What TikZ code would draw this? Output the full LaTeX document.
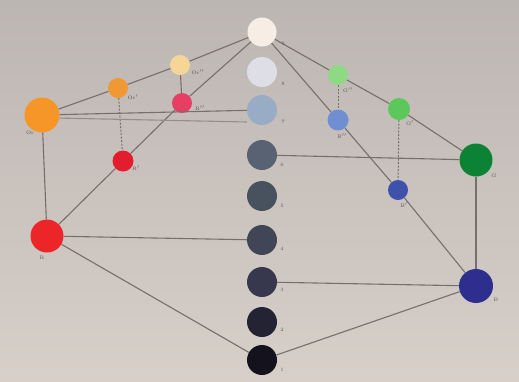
\documentclass[tikz,border=0pt]{standalone}
\usetikzlibrary{calc}
\definecolor{bgtop}{RGB}{188,182,179}
\definecolor{bgbot}{RGB}{215,207,200}
\definecolor{ln}{RGB}{118,111,106}
\definecolor{lab}{RGB}{95,90,88}
\definecolor{c1}{RGB}{246,238,228}
\definecolor{c2}{RGB}{222,223,230}
\definecolor{c3}{RGB}{152,172,198}
\definecolor{c4}{RGB}{88,98,114}
\definecolor{c5}{RGB}{72,82,94}
\definecolor{c6}{RGB}{64,70,86}
\definecolor{c7}{RGB}{55,55,78}
\definecolor{c8}{RGB}{36,35,52}
\definecolor{c9}{RGB}{20,18,28}
\definecolor{orA}{RGB}{246,150,40}
\definecolor{orB}{RGB}{240,152,52}
\definecolor{orC}{RGB}{246,214,150}
\definecolor{rA}{RGB}{236,38,40}
\definecolor{rB}{RGB}{226,30,46}
\definecolor{rC}{RGB}{230,62,100}
\definecolor{gA}{RGB}{12,130,52}
\definecolor{gB}{RGB}{92,200,92}
\definecolor{gC}{RGB}{142,218,132}
\definecolor{bA}{RGB}{46,46,142}
\definecolor{bB}{RGB}{62,82,172}
\definecolor{bC}{RGB}{112,142,210}
\tikzset{
  dot/.style={circle, inner sep=0pt, fill=#1},
  con/.style={draw=ln, line width=1.1pt},
  dcon/.style={draw=ln, line width=1pt, dash pattern=on 2pt off 1.5pt},
  lbl/.style={text=lab, font=\fontsize{5}{5}\selectfont, inner sep=0pt}
}
\begin{document}
\begin{tikzpicture}[x=1pt,y=-1pt]
\shade[top color=bgtop, bottom color=bgbot] (0,0) rectangle (519,381);
\useasboundingbox (0,0) rectangle (519,381);
% centre column
\node[dot=c1, minimum size=29pt] (n9) at (262,32) {};
\node[dot=c2, minimum size=30pt] (n8) at (262,72) {};
\node[dot=c3, minimum size=30pt] (n7) at (262,110) {};
\node[dot=c4, minimum size=30pt] (n6) at (262,155) {};
\node[dot=c5, minimum size=30pt] (n5) at (262,196) {};
\node[dot=c6, minimum size=30pt] (n4) at (262,240) {};
\node[dot=c7, minimum size=30pt] (n3) at (262,282) {};
\node[dot=c8, minimum size=30pt] (n2) at (262,322) {};
\node[dot=c9, minimum size=30pt] (n1) at (262,360) {};
% left
\node[dot=orA, minimum size=35pt] (Or) at (42,115) {};
\node[dot=orB, minimum size=20pt] (Or1) at (118,88) {};
\node[dot=orC, minimum size=20pt] (Or2) at (180,65) {};
\node[dot=rC, minimum size=20pt] (R2) at (182,103) {};
\node[dot=rB, minimum size=21pt] (R1) at (123,161) {};
\node[dot=rA, minimum size=33pt] (R) at (47,236) {};
% right
\node[dot=gC, minimum size=20pt] (G2) at (338,75) {};
\node[dot=bC, minimum size=21pt] (B2) at (338,120) {};
\node[dot=gB, minimum size=22pt] (G1) at (399,109) {};
\node[dot=gA, minimum size=33pt] (G) at (476,160) {};
\node[dot=bB, minimum size=20pt] (B1) at (398,190) {};
\node[dot=bA, minimum size=34pt] (B) at (476,286) {};
% connectors
\draw[con] (n9) -- (Or2) -- (Or1) -- (Or);
\draw[con] (n9) -- (R2) -- (R1) -- (R);
\draw[con] (n9) -- (G2) -- (G1) -- (G);
\draw[con] (n9) -- (B2) -- (B1) -- (B);
\draw[dcon] (Or1) -- (R1);
\draw[con] (Or2) -- (R2);
\draw[dcon] (G2) -- (B2);
\draw[dcon] (G1) -- (B1);
\draw[con] (Or) -- (n7);
\draw[con, ln!55!bgtop] (Or.-10) -- ($(n7.west)+(0,12)$);
\draw[con] (G) -- (n6);
\draw[con] (R) -- (n4);
\draw[con] (B) -- (n3);
\draw[con] (Or) -- (R);
\draw[con] (G) -- (B);
\draw[con] (R) -- (n1);
\draw[con] (B) -- (n1);
% labels
\node[lbl] at (283,44) {9};
\node[lbl] at (283,84) {8};
\node[lbl] at (283,122) {7};
\node[lbl] at (282,165) {6};
\node[lbl] at (282,206) {5};
\node[lbl] at (282,249) {4};
\node[lbl] at (282,290) {3};
\node[lbl] at (282,330) {2};
\node[lbl] at (282,370) {1};
\node[lbl] at (30,133) {Or};
\node[lbl] at (133,97) {Or$'$};
\node[lbl] at (198,72) {Or$''$};
\node[lbl] at (200,108) {R$''$};
\node[lbl] at (136,168) {R$'$};
\node[lbl] at (42,258) {R};
\node[lbl] at (348,90) {G$''$};
\node[lbl] at (342,136) {B$''$};
\node[lbl] at (410,123) {G$'$};
\node[lbl] at (494,176) {G};
\node[lbl] at (404,205) {B$'$};
\node[lbl] at (496,300) {B};
\end{tikzpicture}
\end{document}
